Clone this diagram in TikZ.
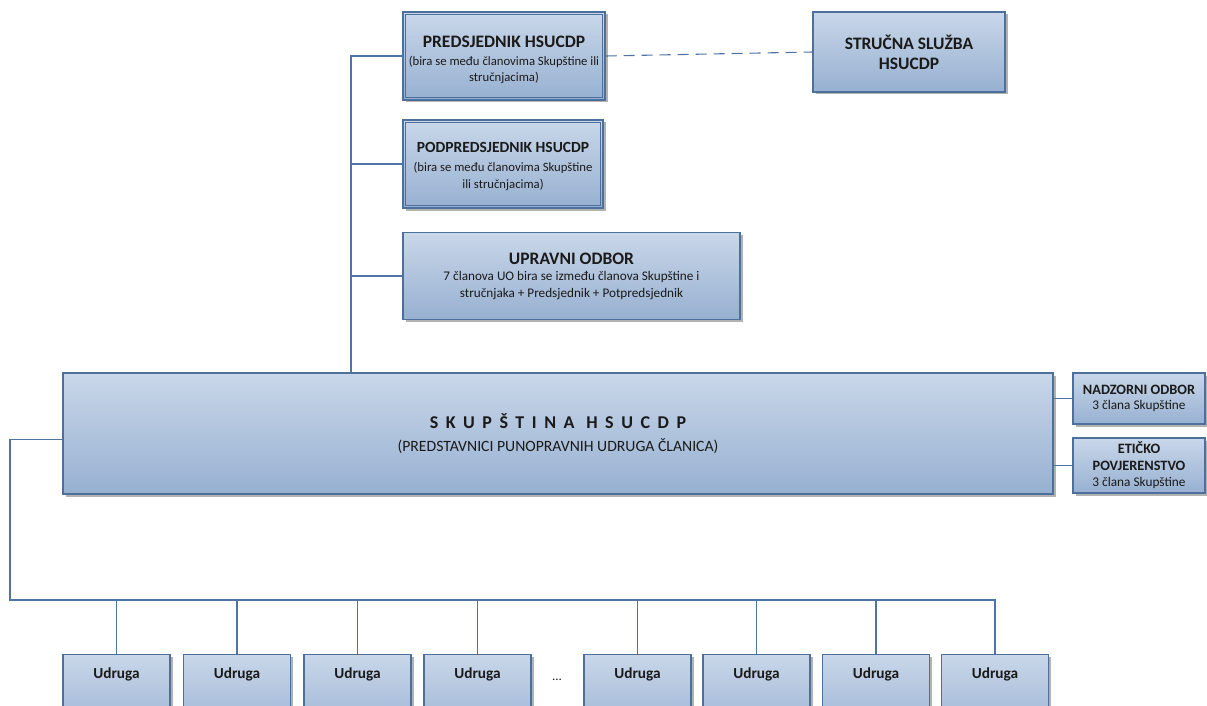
\documentclass[tikz,border=0pt]{standalone}
\usepackage{fontspec}
\setmainfont{Carlito}
\usetikzlibrary{shadows,calc}
\definecolor{boxtop}{HTML}{C9D7E9}
\definecolor{boxbot}{HTML}{97B0D1}
\definecolor{boxline}{HTML}{4D6F9C}
\definecolor{conncol}{HTML}{4F73A3}
\definecolor{txt}{HTML}{1A1A1A}
\tikzset{
  orgbox/.style={draw=boxline, line width=1.1pt, top color=boxtop, bottom color=boxbot,
    drop shadow={shadow xshift=2.5pt, shadow yshift=-2.5pt, fill=black, opacity=0.3},
    align=center, inner sep=0pt, text=txt},
  conn/.style={draw=conncol, line width=1.1pt},
}
\newcommand{\ttl}[2]{{\fontsize{#1}{#1}\selectfont\bfseries #2}}
\begin{document}
\begin{tikzpicture}[x=1pt,y=-1pt]
\useasboundingbox (0,0) rectangle (1207,706);
% top boxes
\node[orgbox, minimum width=202, minimum height=88, font=\fontsize{12.7}{15.5}\selectfont] (pred) at (504,56)
  {\rule{0pt}{19pt}\ttl{17.5}{PREDSJEDNIK HSUCDP}\\[2.5pt](bira se među članovima Skupštine ili\\stručnjacima)};
\draw[boxline, line width=1.1pt] ($(pred.north west)+(3,3)$) rectangle ($(pred.south east)+(-3,-3)$);
\node[orgbox, minimum width=200, minimum height=88, font=\fontsize{12.7}{17}\selectfont] (podp) at (503,164)
  {\rule{0pt}{15pt}\ttl{15.5}{PODPREDSJEDNIK HSUCDP}\\[2pt](bira se među članovima Skupštine\\ili stručnjacima)};
\draw[boxline, line width=1.1pt] ($(podp.north west)+(3,3)$) rectangle ($(podp.south east)+(-3,-3)$);
\node[orgbox, minimum width=337, minimum height=87, font=\fontsize{13.2}{17}\selectfont] (upr) at (571.5,276)
  {\ttl{17.5}{UPRAVNI ODBOR}\\[-1pt]7 članova UO bira se između članova Skupštine i\\stručnjaka + Predsjednik + Potpredsjednik};
\node[orgbox, minimum width=192, minimum height=80, font=\fontsize{17.5}{20}\selectfont\bfseries] (stru) at (909,52)
  {STRUČNA SLUŽBA\\HSUCDP};
% assembly
\node[orgbox, minimum width=990, minimum height=121, font=\fontsize{15.7}{18}\selectfont] (skup) at (558,433.5)
  {{\fontsize{18}{18}\selectfont\bfseries\addfontfeatures{LetterSpace=42}SKUPŠTINA HSUCDP}\\[5pt](PREDSTAVNICI PUNOPRAVNIH UDRUGA ČLANICA)};
\node[orgbox, minimum width=132, minimum height=51, font=\fontsize{13.3}{15.5}\selectfont] (nad) at (1139,398.5)
  {\ttl{14.3}{NADZORNI ODBOR}\\3 člana Skupštine};
\node[orgbox, minimum width=132, minimum height=55, font=\fontsize{13.3}{16.5}\selectfont] (eti) at (1139,465.5)
  {\ttl{14.3}{ETIČKO}\\\ttl{14.3}{POVJERENSTVO}\\3 člana Skupštine};
% member associations
\tikzset{udruga/.style={orgbox, anchor=north, minimum width=107, inner ysep=13pt,
   text height=11pt, text depth=50pt, font=\fontsize{15.3}{15.3}\selectfont\bfseries}}
\node[udruga] (u1) at (116.5,654) {Udruga};
\node[udruga] (u2) at (237,654) {Udruga};
\node[udruga] (u3) at (357.5,654) {Udruga};
\node[udruga] (u4) at (477.5,654) {Udruga};
\node[text=txt, font=\fontsize{13}{13}\selectfont] (dots) at (557,680) {...};
\node[udruga] (u5) at (637.5,654) {Udruga};
\node[udruga] (u6) at (756.5,654) {Udruga};
\node[udruga] (u7) at (876,654) {Udruga};
\node[udruga] (u8) at (995,654) {Udruga};
% connectors
\coordinate (tx) at (351,373);
\draw[conn] (pred.west) -| (tx);
\draw[conn] (podp.west) -- (podp.west -| tx);
\draw[conn] (upr.west) -- (upr.west -| tx);
\draw[conn, dash pattern=on 11pt off 7pt] (pred.east) -- (stru.west);
\draw[conn] (skup.east |- nad.west) -- (nad.west);
\draw[conn] (skup.east |- eti.west) -- (eti.west);
\coordinate (bl) at (10,600);
\draw[conn] ([yshift=-6pt]skup.west) -| (bl) -- (u8.north |- bl) -- (u8.north);
\foreach \u in {u1,u2,u3,u4,u5,u6,u7}{
  \draw[conn] (\u.north |- bl) -- (\u.north);
}
\end{tikzpicture}
\end{document}
